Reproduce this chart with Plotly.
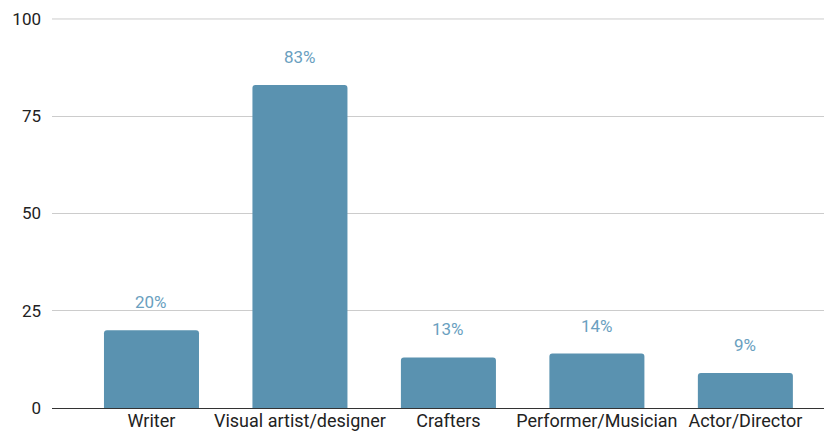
import plotly.graph_objects as go

categories = ["Writer", "Visual artist/designer", "Crafters", "Performer/Musician", "Actor/Director"]
values = [20, 83, 13, 14, 9]
y_ticks = [0, 25, 50, 75, 100]

bar_color = "#5a92b0"
label_color = "#6a9fc0"
grid_color = "#cccccc"

fig = go.Figure()
fig.add_trace(go.Bar(
    x=list(range(len(categories))),
    y=values,
    marker=dict(color=bar_color, cornerradius=3, line=dict(width=0)),
    hoverinfo="skip",
))

for i, v in enumerate(values):
    fig.add_annotation(
        x=i, y=v, text=f"{v}%", showarrow=False,
        yanchor="middle", yshift=28,
        font=dict(family="Roboto", size=17, color=label_color),
    )

# top gridline (plotly drops the gridline at the range edge)
fig.add_shape(
    type="line", xref="paper", x0=0, x1=1, yref="y", y0=y_ticks[-1], y1=y_ticks[-1],
    line=dict(color=grid_color, width=1), layer="below",
)

fig.update_layout(
    width=832, height=437,
    margin=dict(l=44, r=10, t=10, b=37),
    paper_bgcolor="white", plot_bgcolor="white",
    bargap=0.36,
    showlegend=False,
    font=dict(family="Roboto", size=17, color="#222222"),
)
fig.update_xaxes(
    range=[-0.67, 4.57],
    tickmode="array",
    tickvals=list(range(len(categories))),
    ticktext=categories,
    showgrid=False, showline=False, ticks="",
    automargin=False,
    tickfont=dict(family="Roboto", size=18, color="#222222"),
)
fig.update_yaxes(
    range=[0, 100.25],
    tickmode="array", tickvals=y_ticks,
    showgrid=True, gridcolor=grid_color, gridwidth=1,
    zeroline=True, zerolinecolor="#333333", zerolinewidth=1,
    showline=False, ticks="",
    automargin=False,
    ticklabelstandoff=10,
    tickfont=dict(family="Roboto", size=17, color="#222222"),
)

fig.write_html("out.html")
